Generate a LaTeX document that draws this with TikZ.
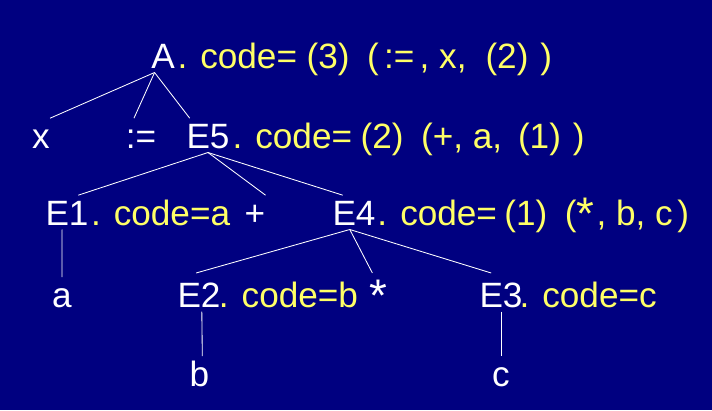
\documentclass[tikz,border=0pt]{standalone}
\usepackage{fontspec}
\setmainfont{Liberation Sans}
\usepackage{tikz}
\usetikzlibrary{positioning}
\definecolor{bgblue}{RGB}{0,0,128}
\definecolor{codeyellow}{RGB}{255,255,102}
\newcommand{\fwl}{\hspace{0.5em}(}
\newcommand{\fwr}{\hspace{0.34em})}
\newcommand{\bigstar}{\raisebox{-0.12em}{\scalebox{1.3}{*}}}
\tikzset{
    lbl/.style={anchor=base,text=white,inner xsep=0pt,inner ysep=3pt,text height=18pt,text depth=0pt,font=\fontsize{25}{30}\selectfont},
    codetext/.style={text=codeyellow,inner sep=0pt,font=\fontsize{25}{30}\selectfont},
    branch/.style={draw=white,line width=0.6pt}
}
\begin{document}
\begin{tikzpicture}[x=0.025cm,y=-0.025cm]
            \fill[bgblue](0,0) rectangle (712,410);
            \useasboundingbox (0,0) rectangle (712,410);
            \node[lbl] (A) at (163,68){A};
            \node[lbl] (x) at (41,148){x};
            \node[lbl] (assign) at (141,148){:=};
            \node[lbl] (E5) at (208,148){E5};
            \node[lbl] (E1) at (67,225){E1};
            \node[lbl] (plus) at (255,225){+};
            \node[lbl] (E4) at (354,225){E4};
            \node[lbl] (a) at (62,307){a};
            \node[lbl] (E2) at (199,307){E2};
            \node[lbl] (star) at (378,307){\bigstar};
            \node[lbl] (E3) at (501,307){E3};
            \node[lbl] (b) at (199.5,386){b};
            \node[lbl] (c) at (501,386){c};

            \node[codetext,base right=1.6pt of A]{. code=\hspace{0.27em}(3)\fwl\hspace{0.15em}:=\hspace{0.15em}, x,\hspace{0.54em}(2)\fwr};
            \node[codetext,base right=1.8pt of E5]{. code=\hspace{0.24em}(2)\fwl+, a,\hspace{0.45em}(1)\fwr};
            \node[codetext,base right=1.4pt of E1]{. code=a};
            \node[codetext,base right=1pt of E4]{. code=\hspace{0.21em}(1)\fwl\bigstar\hspace{0.06em}, b, c\hspace{0.13em})};
            \node[codetext,base right=-1.5pt of E2]{. code=b};
            \node[codetext,base right=-2.5pt of E3]{. code=c};

            \draw[branch]([xshift=-6pt]A.south) -- (x.north east);
            \draw[branch]([xshift=-6pt]A.south) -- ([xshift=-5pt]assign.north);
            \draw[branch]([xshift=-6pt]A.south) -- ([xshift=-13pt]E5.north);
            \draw[branch](E5.south) -- ([xshift=8pt]E1.north);
            \draw[branch](E5.south) -- (plus.north east);
            \draw[branch](E5.south) -- ([xshift=-8pt]E4.north);
            \draw[branch]([xshift=-3pt]E4.south) -- ([xshift=-2pt,yshift=3pt]E2.north);
            \draw[branch]([xshift=-3pt]E4.south) -- ([xshift=-4pt,yshift=3pt]star.north);
            \draw[branch]([xshift=-3pt]E4.south) -- ([xshift=-7pt,yshift=3pt]E3.north);
            \draw[branch]([xshift=-3.5pt]E1.south) -- (a.north);
            \draw[branch]([xshift=2pt]E2.south) -- ([xshift=2pt]b.north);
            \draw[branch](E3.south) -- (c.north);
        \end{tikzpicture}
\end{document}
